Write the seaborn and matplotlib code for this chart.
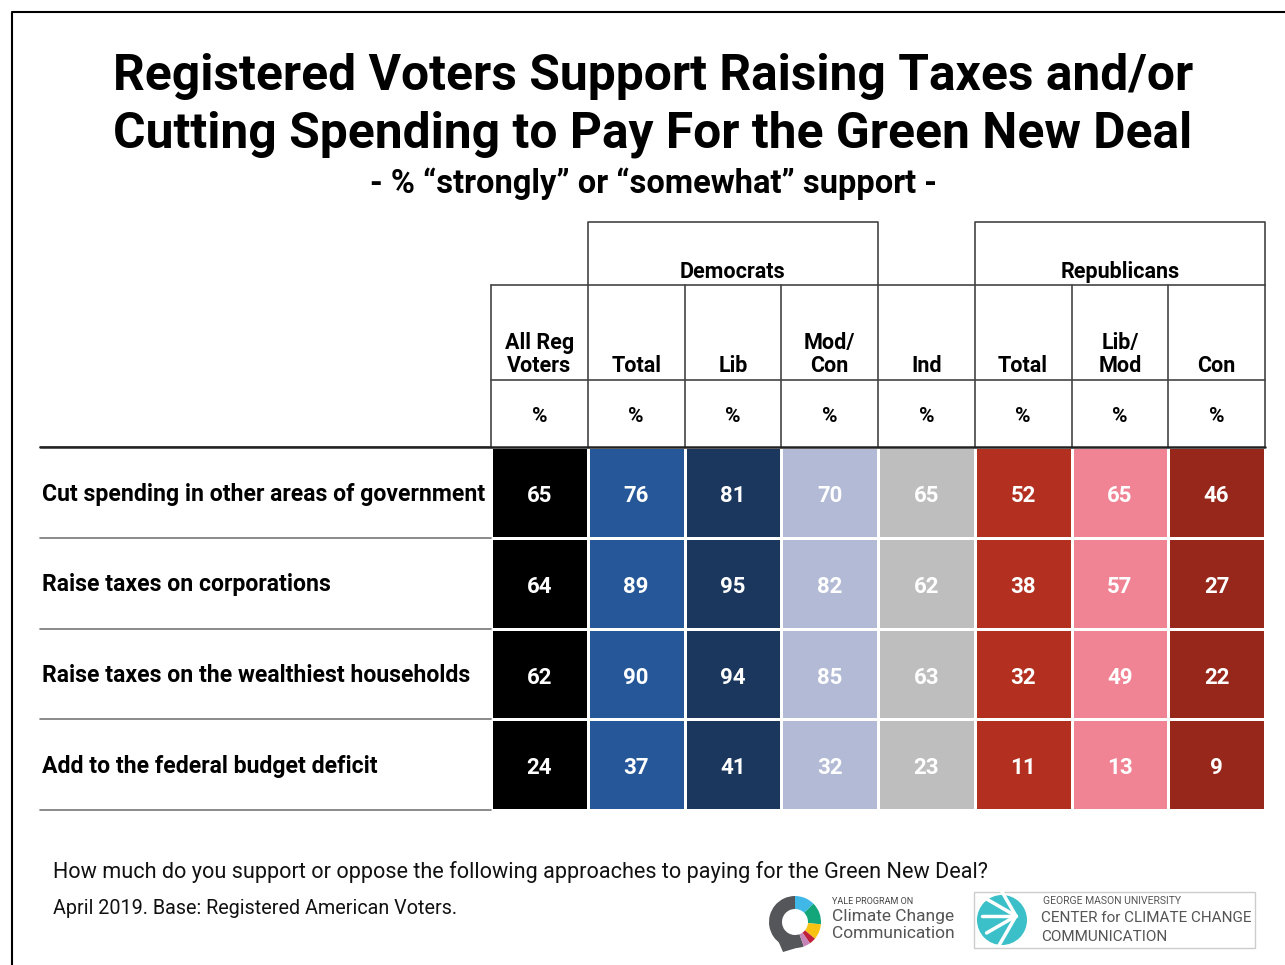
import numpy as np
import pandas as pd
import seaborn as sns
import matplotlib.pyplot as plt
from matplotlib.colors import ListedColormap
from matplotlib.patches import Wedge, Circle, Rectangle, Polygon

# data
rows = ["Cut spending in other areas of government",
        "Raise taxes on corporations",
        "Raise taxes on the wealthiest households",
        "Add to the federal budget deficit"]
cols = ["All Reg\nVoters", "Total", "Lib", "Mod/\nCon", "Ind", "Total", "Lib/\nMod", "Con"]
all_reg = [65, 64, 62, 24]
dem_total = [76, 89, 90, 37]
dem_lib = [81, 95, 94, 41]
dem_modcon = [70, 82, 85, 32]
ind = [65, 62, 63, 23]
rep_total = [52, 38, 32, 11]
rep_libmod = [65, 57, 49, 13]
rep_con = [46, 27, 22, 9]
col_colors = ["#000000", "#255799", "#1b375d", "#b3bad6", "#bebebe",
              "#b33020", "#f08494", "#97271a"]
groups = [("Democrats", 1, 4), ("Republicans", 5, 8)]

vals = pd.DataFrame({i: v for i, v in enumerate(
    [all_reg, dem_total, dem_lib, dem_modcon, ind, rep_total, rep_libmod, rep_con])},
    index=rows)
color_idx = np.tile(np.arange(len(cols)), (len(rows), 1))

sns.set_theme(style="white")
plt.rcParams['font.family'] = ['Roboto', 'DejaVu Sans']
plt.rcParams['text.color'] = 'black'

W, H = 1285, 965
fig = plt.figure(figsize=(W / 100, H / 100), dpi=100)

# heatmap axes in pixel layout
x0, x1, y0, y1 = 491, 1265, 447, 810
ax = fig.add_axes([x0 / W, 1 - y1 / H, (x1 - x0) / W, (y1 - y0) / H])
sns.heatmap(color_idx, ax=ax, cmap=ListedColormap(col_colors), vmin=-0.5, vmax=7.5,
            annot=vals.values, fmt="d", cbar=False, linewidths=1, linecolor="white",
            annot_kws={"color": "white", "fontsize": 16, "fontweight": "bold"})
# nudge the numbers down a touch to sit like the original
for t in ax.texts:
    xx, yy = t.get_position()
    t.set_position((xx, yy + 0.04))
ax.set_xticks([])
ax.set_yticks([])
ax.set_xlabel("")
ax.set_ylabel("")

cw = (x1 - x0) / len(cols)
rh = (y1 - y0) / len(rows)
px = lambda p: (p - x0) / cw
py = lambda p: (p - y0) / rh

# row labels and separators
for i, r in enumerate(rows):
    ax.text(px(42), i + 0.52, r, ha="left", va="center", fontsize=16.6,
            fontweight="bold", color="black", clip_on=False)
for i in range(len(rows) + 1):
    ax.plot([px(40), 0], [i, i], color="#777777", lw=1.2, clip_on=False)
ax.plot([px(40), len(cols)], [0, 0], color="#222222", lw=1.8, clip_on=False, zorder=5)

# header grid
lc = dict(color="#444444", lw=1.2, clip_on=False)
y_top, y_mid, y_pct = py(222), py(285), py(380)
ax.plot([0, len(cols)], [y_mid, y_mid], **lc)
ax.plot([0, len(cols)], [y_pct, y_pct], **lc)
for j in range(len(cols) + 1):
    ax.plot([j, j], [y_mid, 0], **lc)
for name, a, b in groups:
    ax.plot([a, a, b, b], [y_mid, y_top, y_top, y_mid], **lc)
    ax.text((a + b) / 2, py(272), name, ha="center", va="center", fontsize=15.5,
            fontweight="bold", clip_on=False)
for j, c in enumerate(cols):
    ax.text(j + 0.5, py(377), c, ha="center", va="bottom", fontsize=15.5,
            fontweight="bold", linespacing=1.05, clip_on=False)
    ax.text(j + 0.5, py(416), "%", ha="center", va="center", fontsize=15,
            fontweight="bold", clip_on=False)

# overlay in pixel coords for titles, frame and logos
ov = fig.add_axes([0, 0, 1, 1], zorder=-1)
ov.set_xlim(0, W)
ov.set_ylim(0, H)
ov.axis("off")
Y = lambda p: H - p

ov.plot([12, 12, W], [0, Y(12), Y(12)], color="black", lw=1.5)
ov.text(653, Y(76), "Registered Voters Support Raising Taxes and/or", ha="center",
        va="center", fontsize=35.8, fontweight="bold")
ov.text(653, Y(134), "Cutting Spending to Pay For the Green New Deal", ha="center",
        va="center", fontsize=35.8, fontweight="bold")
ov.text(653, Y(184), "- % \u201cstrongly\u201d or \u201csomewhat\u201d support -", ha="center",
        va="center", fontsize=23.5, fontweight="bold")

ov.text(53, Y(872), "How much do you support or oppose the following approaches to paying for the Green New Deal?",
        ha="left", va="center", fontsize=15.6, color="#111111")
ov.text(53, Y(908), "April 2019. Base: Registered American Voters.",
        ha="left", va="center", fontsize=14.2, color="#111111")

# Yale logo
cx, cy = 795, Y(922)
segs = [(90, 290, "#555659"), (45, 90, "#3fb8e8"), (-5, 45, "#12a67a"),
        (-40, -5, "#f8c213"), (-55, -40, "#c0203b"), (-70, -55, "#c583b8")]
for a, b, c in segs:
    ov.add_patch(Wedge((cx, cy), 26, a, b, width=13, color=c, lw=0))
ov.add_patch(Polygon([[cx - 18, Y(938)], [cx + 8, Y(946)], [cx - 12, Y(952)]],
                     color="#555659", lw=0))
ov.text(832, Y(901), "YALE PROGRAM ON", fontsize=6.5, color="#444444", va="center")
ov.text(832, Y(917), "Climate Change", fontsize=12.5, color="#555555", va="center")
ov.text(832, Y(934), "Communication", fontsize=12.5, color="#555555", va="center")

# George Mason logo
ov.add_patch(Rectangle((974, Y(948)), 281, 56, fill=False, edgecolor="#cccccc", lw=1))
ov.add_patch(Circle((1002, Y(920)), 25, color="#3bbfc8", lw=0))
for ang in np.linspace(120, 240, 5):
    t = np.radians(ang)
    ov.plot([1016, 1016 + 34 * np.cos(t)], [Y(916), Y(916) + 34 * np.sin(t)],
            color="white", lw=2.5)
ov.text(1043, Y(901), "GEORGE MASON UNIVERSITY", fontsize=7.5, color="#555555", va="center")
ov.text(1041, Y(918), "CENTER for CLIMATE CHANGE", fontsize=11, color="#555555", va="center")
ov.text(1041, Y(937), "COMMUNICATION", fontsize=11, color="#555555", va="center")

fig.savefig("out.png", dpi=100)
